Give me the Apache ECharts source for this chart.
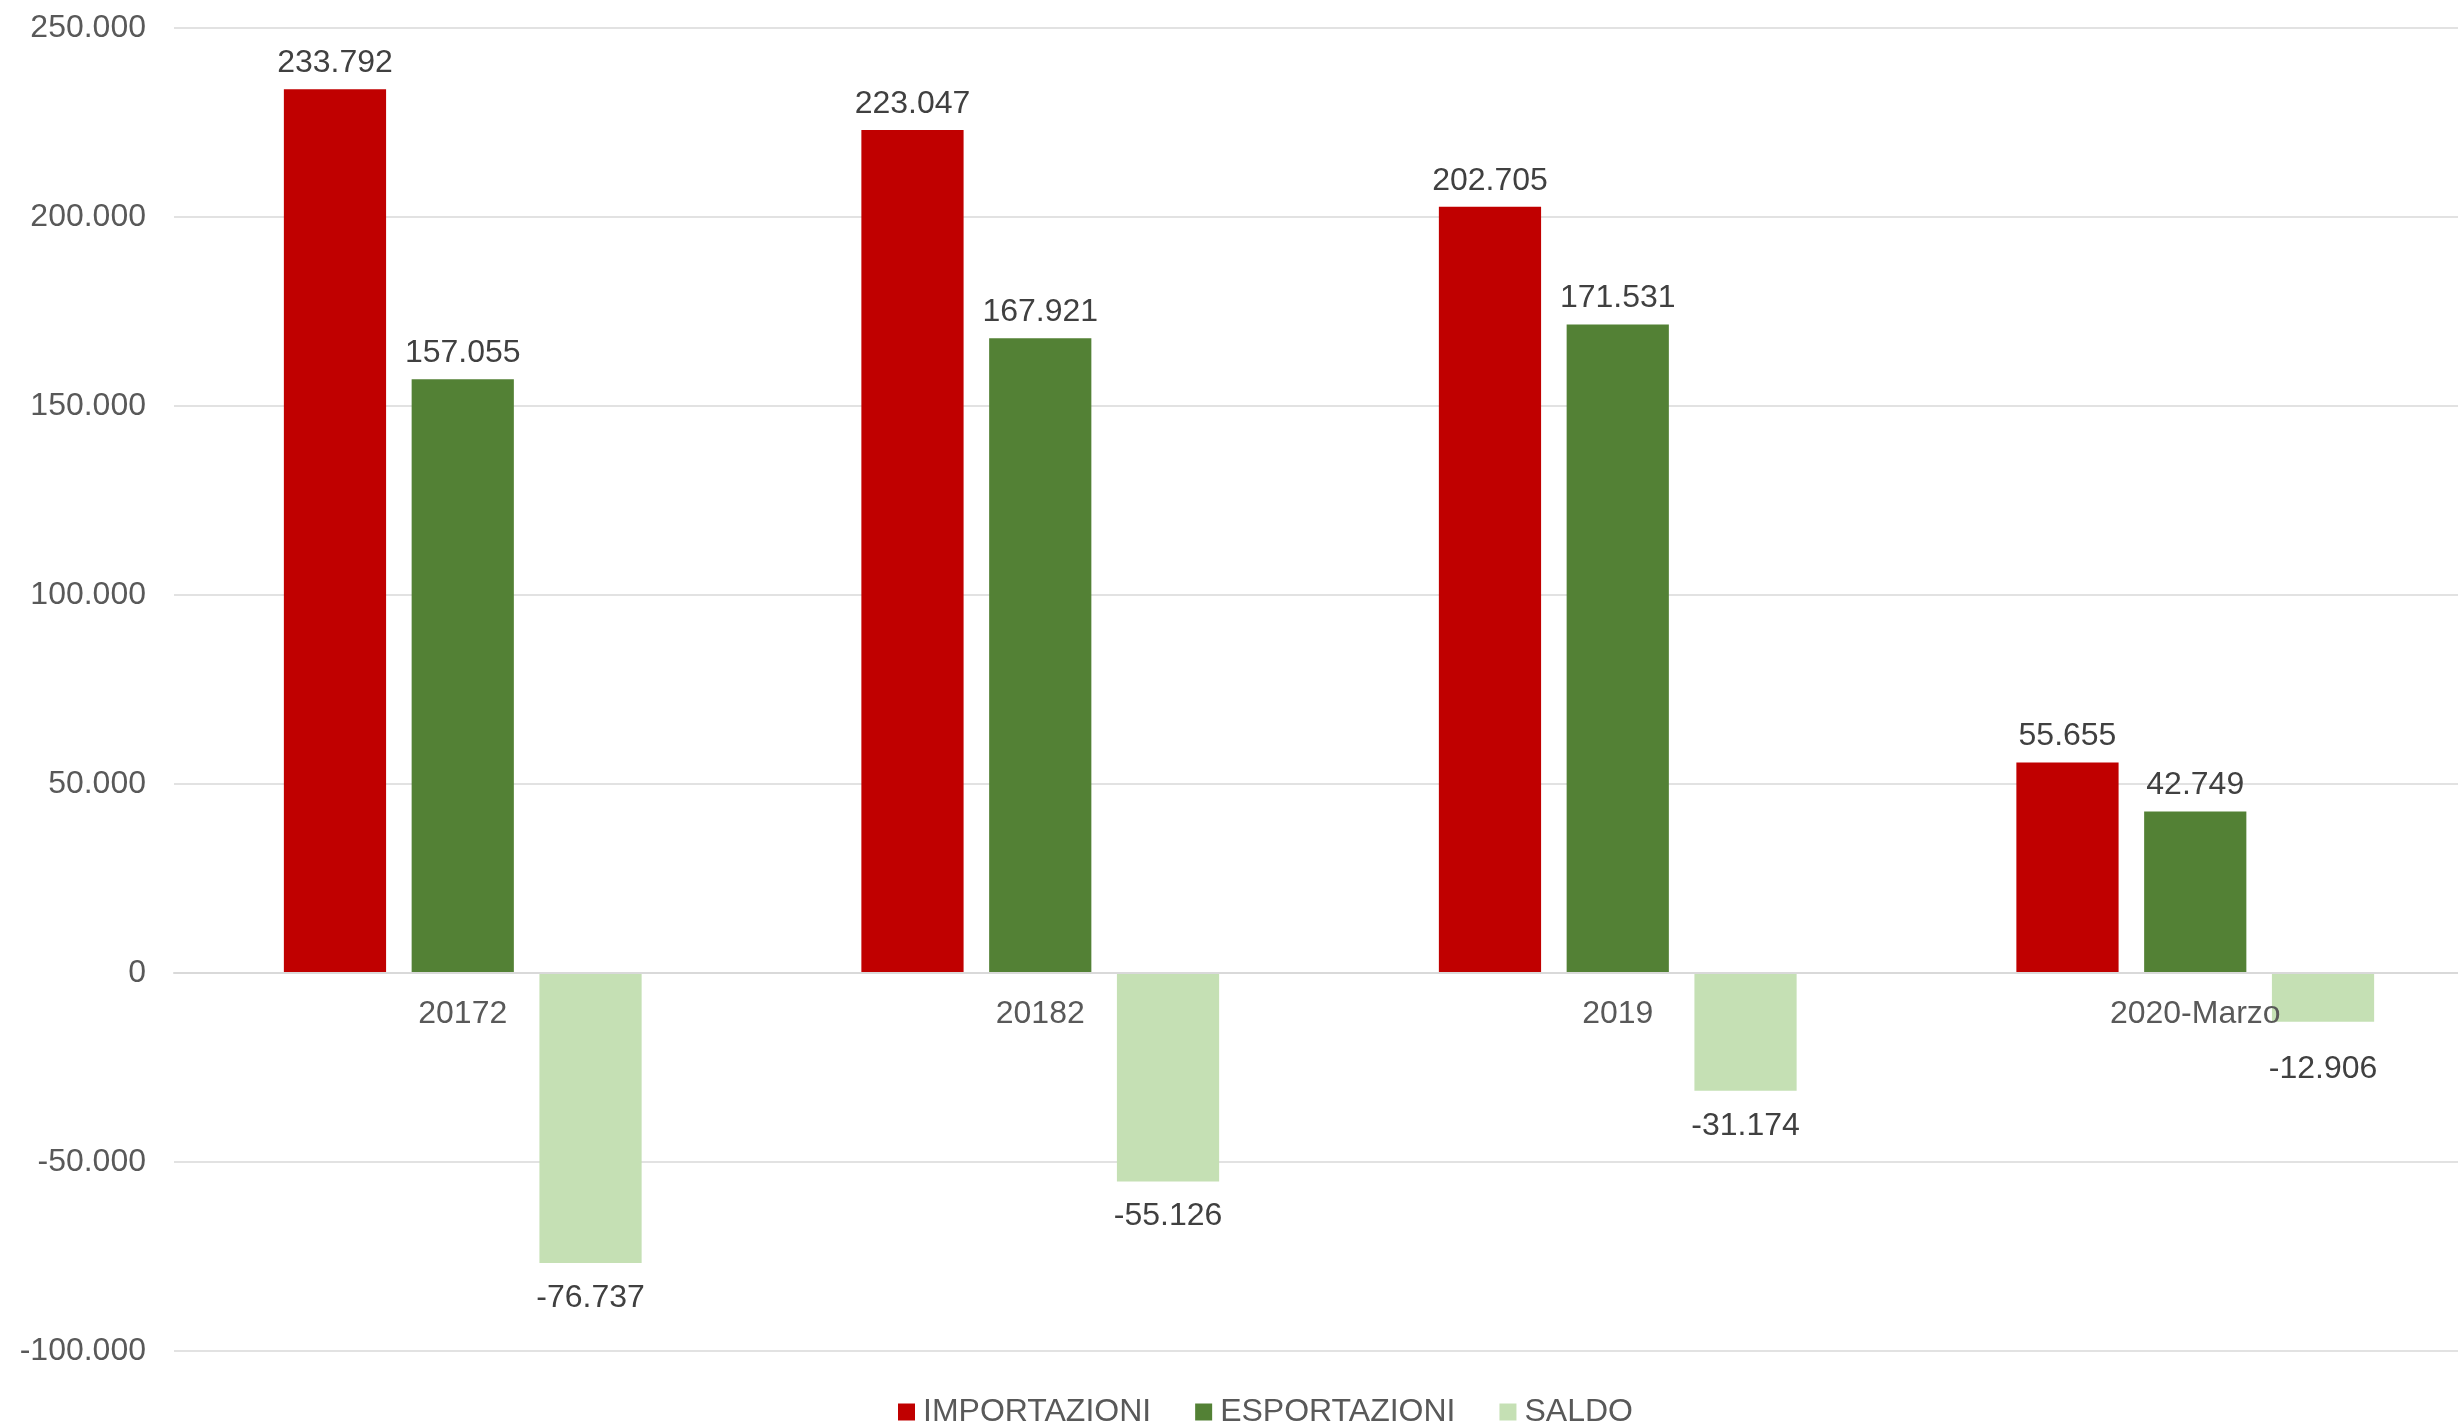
<!DOCTYPE html>
<html>
<head>
<meta charset="utf-8">
<script src="https://cdn.jsdelivr.net/npm/echarts@6/dist/echarts.min.js"></script>
<style>
html,body{margin:0;padding:0;background:#fff;overflow:hidden;width:2458px;height:1426px;}
#chart{width:2484px;height:1426px;}
</style>
</head>
<body>
<div id="chart"></div>
<script>
const categories = ['20172', '20182', '2019', '2020-Marzo'];
const importazioni = [233792, 223047, 202705, 55655];
const esportazioni = [157055, 167921, 171531, 42749];
const saldo = [-76737, -55126, -31174, -12906];
const seriesNames = ['IMPORTAZIONI', 'ESPORTAZIONI', 'SALDO'];
const seriesColors = ['#C00000', '#538135', '#C5E0B4'];

function fmt(v) {
  const s = Math.abs(v).toString().replace(/\B(?=(\d{3})+(?!\d))/g, '.');
  return (v < 0 ? '-' : '') + s;
}
function toData(arr) {
  return arr.map(v => ({
    value: v,
    label: v < 0
      ? { position: 'bottom', distance: v > -20000 ? 31 : 19 }
      : { position: 'top', distance: 10 }
  }));
}
const FONT = '"Liberation Sans", Arial, sans-serif';
const chart = echarts.init(document.getElementById('chart'));
const series = [importazioni, esportazioni, saldo].map((arr, i) => ({
  name: seriesNames[i],
  type: 'bar',
  data: toData(arr),
  barWidth: '17.7%',
  barGap: '25%',
  itemStyle: { color: seriesColors[i] },
  label: {
    show: true,
    fontSize: 32,
    fontFamily: FONT,
    color: '#404040',
    formatter: p => fmt(p.value)
  }
}));
chart.setOption({
  animation: false,
  backgroundColor: '#fff',
  grid: { left: 174, right: 0, top: 28, bottom: 75, containLabel: false },
  legend: {
    data: seriesNames,
    left: 893,
    top: 1391,
    itemWidth: 17,
    itemHeight: 17,
    itemGap: 44,
    icon: 'rect',
    textStyle: { fontSize: 32, fontFamily: FONT, color: '#595959', padding: [0, 0, 0, 3] }
  },
  xAxis: {
    type: 'category',
    data: categories,
    position: 'bottom',
    offset: -378,
    z: 5,
    axisLine: { onZero: false, lineStyle: { color: '#d9d9d9', width: 2 } },
    axisTick: { show: false },
    axisLabel: { fontSize: 32, fontFamily: FONT, color: '#595959', margin: 25 }
  },
  yAxis: {
    type: 'value',
    min: -100000,
    max: 250000,
    interval: 50000,
    axisLine: { show: false },
    axisTick: { show: false },
    splitLine: { lineStyle: { color: '#d9d9d9', width: 1.5 } },
    axisLabel: { fontSize: 32, fontFamily: FONT, color: '#595959', margin: 28, formatter: v => fmt(v) }
  },
  series: series
});
</script>
</body>
</html>
